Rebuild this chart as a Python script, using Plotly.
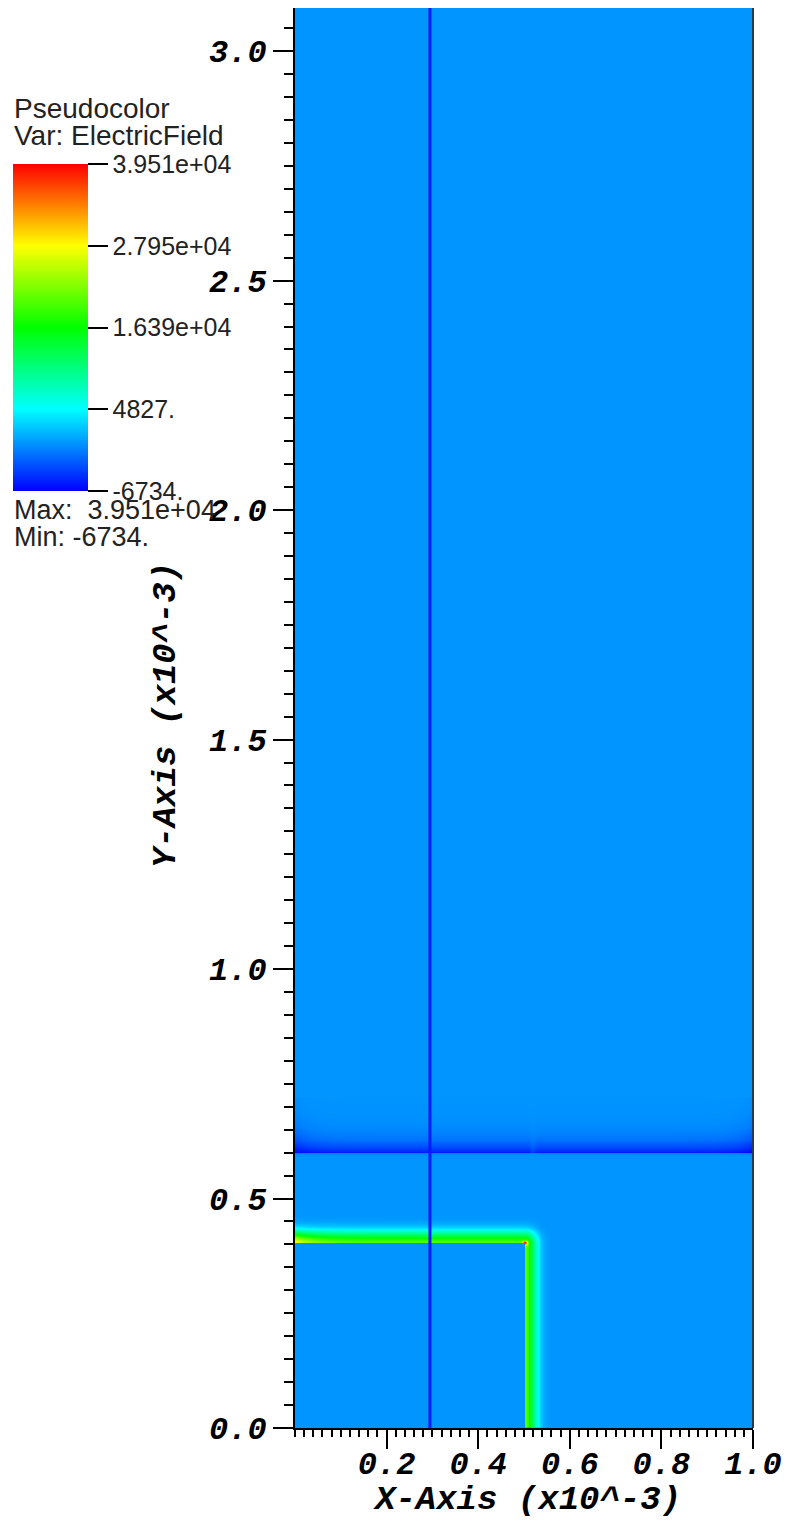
import numpy as np
import plotly.graph_objects as go

# ---------------- data ----------------
VMIN, VMAX = -6734.0, 39510.0
CBAR_TICKVALS = [-6734.0, 4827.0, 16388.0, 27949.0, 39510.0]
CBAR_TICKTEXT = ["-6734.", "4827.", "1.639e+04", "2.795e+04", "3.951e+04"]

X_RANGE = [0.0, 1.0]
Y_RANGE = [0.0, 3.094]
X_TICKS = [0.2, 0.4, 0.6, 0.8, 1.0]
X_TICKTEXT = ["0.2", "0.4", "0.6", "0.8", "1.0"]
Y_TICKS = [0.0, 0.5, 1.0, 1.5, 2.0, 2.5, 3.0]
Y_TICKTEXT = ["0.0", "0.5", "1.0", "1.5", "2.0", "2.5", "3.0"]

BACKGROUND_FIELD = 0.0                 # field value of the uniform region
DARK_BAND = [0.600, -5600.0, -6734.0]  # y position, amplitude mid, amplitude at edges
DARK_BAND_DECAY = [0.022, 0.035]       # upward decay length: middle, edges
CONDUCTOR_CORNER = [0.502, 0.402]      # corner of the L-shaped edge (x, y)
EDGE_FIELD = [20000.0, 8000.0]         # edge field, extra at left end
EDGE_WIDTH = 0.025
CORNER_PEAK = 19500.0
LINE_X = [0.2946, 0.2946]              # thin vertical line
LINE_Y = [0.0, 3.094]

# ---------------- field grid ----------------
xs = np.arange(0.001, 1.0, 0.002)
ys = np.arange(0.001, 0.72, 0.002)
X, Y = np.meshgrid(xs, ys)

Z = np.full_like(X, BACKGROUND_FIELD)

# dark band at y=0.6
edge_w = np.exp(-np.minimum(X, 1 - X) / 0.03)
amp = DARK_BAND[1] + (DARK_BAND[2] - DARK_BAND[1]) * edge_w
amp = amp * (1 - 0.25 * np.exp(-((X - 0.52) / 0.006) ** 2))
decay = DARK_BAND_DECAY[0] + (DARK_BAND_DECAY[1] - DARK_BAND_DECAY[0]) * edge_w
dy = Y - DARK_BAND[0]
Z += np.where(dy >= 0, amp * np.exp(-dy / decay), amp * np.exp(dy / 0.002))

# L-shaped edge field outside rectangle [0,cx]x[0,cy]
cx, cy = CONDUCTOR_CORNER
ddx = np.maximum(X - cx, 0)
ddy = np.maximum(Y - cy, 0)
d = np.sqrt(ddx ** 2 + ddy ** 2)
outside = (X > cx) | (Y > cy)
A = EDGE_FIELD[0] + EDGE_FIELD[1] * np.exp(-X / 0.04) * (X < cx)
r = np.sqrt((X - cx) ** 2 + (Y - cy) ** 2)
edge = A * np.exp(-(d / EDGE_WIDTH) ** 2) + CORNER_PEAK * np.exp(-(r / 0.005) ** 2)
Z += np.where(outside, edge, 0.0)
Z = np.clip(np.round(Z), VMIN, VMAX)

colorscale = [[0.0, "rgb(0,0,255)"], [0.25, "rgb(0,255,255)"],
              [0.5, "rgb(0,255,0)"], [0.75, "rgb(255,255,0)"], [1.0, "rgb(255,0,0)"]]
bg_t = (BACKGROUND_FIELD - VMIN) / (VMAX - VMIN)
bg_color = "rgb(0,%d,255)" % round(255 * bg_t / 0.25)

W, H = 788, 1523
PL, PR, PT, PB = 295, 753, 8, 1428

fig = go.Figure()
fig.add_trace(go.Heatmap(
    x=[0.25, 0.75], y=[1.30, 2.50], z=[[BACKGROUND_FIELD] * 2] * 2,
    zmin=VMIN, zmax=VMAX, colorscale=colorscale, showscale=False, hoverinfo="skip"))
fig.add_trace(go.Heatmap(
    x=xs, y=ys, z=Z, zmin=VMIN, zmax=VMAX, colorscale=colorscale,
    colorbar=dict(
        xref="container", yref="container",
        x=13 / W, xanchor="left", y=1 - 176 / H, yanchor="top",
        len=327, lenmode="pixels", thickness=75, thicknessmode="pixels",
        xpad=0, ypad=0, outlinewidth=0,
        tickmode="array", tickvals=CBAR_TICKVALS, ticktext=CBAR_TICKTEXT,
        ticks="outside", ticklen=20, tickwidth=2, tickcolor="black",
        tickfont=dict(family="Liberation Sans", size=25, color="#222"),
    )))
fig.add_trace(go.Scatter(x=LINE_X, y=LINE_Y, mode="lines",
                         line=dict(color="rgb(10,25,255)", width=3),
                         showlegend=False, hoverinfo="skip"))

mono = dict(family="Liberation Mono", size=32, color="black", weight="bold", style="italic")
fig.update_xaxes(range=X_RANGE, showgrid=False, zeroline=False, automargin=False,
                 showline=True, linecolor="black", linewidth=2,
                 tickmode="array", tickvals=X_TICKS, ticktext=X_TICKTEXT,
                 ticks="outside", ticklen=19, tickwidth=2, tickcolor="black",
                 ticklabelstandoff=-13,
                 minor=dict(dtick=0.02, tick0=0, ticks="outside", ticklen=7,
                            tickwidth=1.5, tickcolor="black", showgrid=False),
                 tickfont=mono)
fig.update_yaxes(range=Y_RANGE, showgrid=False, zeroline=False, automargin=False,
                 showline=True, linecolor="black", linewidth=2,
                 tickmode="array", tickvals=Y_TICKS, ticktext=Y_TICKTEXT,
                 ticks="outside", ticklen=20, tickwidth=2, tickcolor="black",
                 minor=dict(dtick=0.05, tick0=0, ticks="outside", ticklen=9,
                            tickwidth=1.5, tickcolor="black", showgrid=False),
                 tickfont=mono)

pw, ph = PR - PL, PB - PT
def ax(px): return (px - PL) / pw
def ay(py): return (PB - py) / ph

title_font = dict(mono, size=34)
fig.add_annotation(text="X-Axis (x10^-3)", x=ax(527), y=ay(1500), xref="paper", yref="paper",
                   xanchor="center", yanchor="middle", showarrow=False, font=title_font)
fig.add_annotation(text="Y-Axis (x10^-3)", x=ax(166), y=ay(715), xref="paper", yref="paper",
                   xanchor="center", yanchor="middle", showarrow=False, font=title_font,
                   textangle=-90)

sans = dict(family="Liberation Sans", size=28, color="#222")
small = dict(family="Liberation Sans", size=27, color="#222")
ann = [
    ("Pseudocolor", 13, 108, sans),
    ("Var: ElectricField", 13, 135, sans),
    ("Max:  3.951e+04", 13, 510, small),
    ("Min: -6734.", 13, 537, small),
]
for t, px, py, f in ann:
    fig.add_annotation(text=t, x=ax(px), y=ay(py), xref="paper", yref="paper",
                       xanchor="left", yanchor="middle", showarrow=False, font=f,
                       borderpad=0)

fig.add_shape(type="line", xref="paper", yref="paper", x0=1, x1=1, y0=0, y1=1,
              line=dict(color="#2b3b4b", width=2))

fig.update_layout(width=W, height=H,
                  margin=dict(l=PL, r=W - PR, t=PT, b=H - PB, autoexpand=False),
                  paper_bgcolor="white", plot_bgcolor=bg_color, showlegend=False)
fig.write_html("out.html")
